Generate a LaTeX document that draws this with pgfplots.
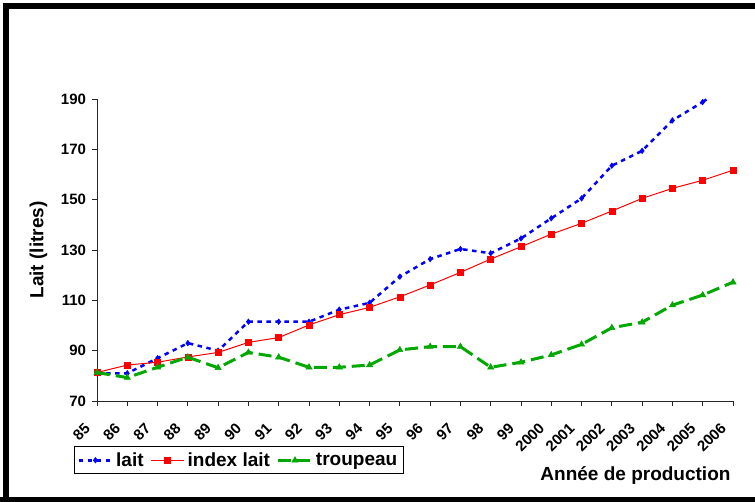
\documentclass[border=0pt]{standalone}
\usepackage{pgfplots}
\pgfplotsset{compat=1.18}
\usepackage{fontspec}
\setmainfont{Liberation Sans}
\definecolor{cblue}{RGB}{0,0,255}
\definecolor{cred}{RGB}{255,0,0}
\definecolor{cgreen}{RGB}{0,168,0}
\begin{document}
\begin{tikzpicture}
\useasboundingbox (0pt,0pt) rectangle (755pt,501pt);
\draw[line width=5.7pt] (6.15pt,-10pt) -- (6.15pt,494.85pt) -- (770pt,494.85pt);
\draw[line width=6pt] (-10pt,1.3pt) -- (770pt,1.3pt);
\begin{axis}[
  at={(97pt,100pt)}, anchor=south west,
  scale only axis, width=636pt, height=302pt,
  xmin=0, xmax=21, ymin=70, ymax=190,
  axis x line*=bottom, axis y line*=left,
  axis line style={-, black!85, line width=0.9pt},
  clip mode=individual,
  xtick={0,...,21},
  xticklabels={85,86,87,88,89,90,91,92,93,94,95,96,97,98,99,2000,2001,2002,2003,2004,2005,2006},
  ytick={70,90,...,190},
  tick align=outside, major tick length=5pt,
  tick style={black!85, line width=0.8pt},
  /pgf/number format/assume math mode=true,
  xticklabel style={font=\fontsize{15}{15}\selectfont\bfseries, xshift=-9.6pt, yshift=-19.5pt, rotate=45, anchor=east, inner sep=0pt},
  yticklabel style={font=\fontsize{15}{15}\selectfont\bfseries, xshift=-2.5pt},
  ylabel={Lait (litres)},
  ylabel style={font=\fontsize{19}{19}\selectfont\bfseries, at={(axis description cs:-0.092,0.5)}, anchor=center},
  xlabel={Année de production},
  xlabel style={font=\fontsize{19}{19}\selectfont\bfseries, at={(axis description cs:1.0016,-0.2616)}, anchor=base east},
  legend columns=-1,
  legend style={at={(-0.0357,-0.2427)}, anchor=south west, draw=black, line width=0.8pt,
    font=\fontsize{19}{19}\selectfont\bfseries, inner sep=3pt,
    nodes={inner sep=3pt},
    /tikz/every even column/.append style={column sep=4pt}},
  legend image code/.code={\draw[mark repeat=2,mark phase=2] plot coordinates {(0pt,0pt)(16.5pt,0pt)(33pt,0pt)};},
]
\addplot[cblue, line width=2.5pt, dash pattern=on 4.5pt off 4.5pt, mark=diamond*, mark size=2.8pt, mark options={solid, line width=0.5pt}]
coordinates {(0,81) (1,81) (2,87) (3,93) (4,90) (5,101.5) (6,101.5) (7,101.5) (8,106.3) (9,109) (10,119.4) (11,126.4) (12,130.4) (13,128.7) (14,134.6) (15,142.6) (16,150.5) (17,163.5) (18,169.4) (19,181.5) (20,188.8)};
\addlegendentry{lait}
\addplot[cred, line width=1pt, mark=square*, mark size=3pt, mark options={solid, line width=0.5pt}]
coordinates {(0,81.3) (1,84.3) (2,85.4) (3,87.5) (4,89.3) (5,93.3) (6,95.2) (7,100.2) (8,104.3) (9,107.2) (10,111.4) (11,116.1) (12,121.1) (13,126.4) (14,131.3) (15,136.3) (16,140.6) (17,145.5) (18,150.5) (19,154.5) (20,157.7) (21,161.7)};
\addlegendentry{index lait}
\addplot[cgreen, line width=3pt, dash pattern=on 13pt off 6pt, mark=triangle*, mark size=3.6pt, mark options={solid, line width=0.5pt}]
coordinates {(0,81.3) (1,79.3) (2,83.4) (3,87.4) (4,83.2) (5,89.3) (6,87.4) (7,83.4) (8,83.4) (9,84.3) (10,90.3) (11,91.6) (12,91.6) (13,83.4) (14,85.4) (15,88.3) (16,92.5) (17,99.1) (18,101.3) (19,108.1) (20,112.1) (21,117.2)};
\addlegendentry{troupeau}
\addplot[cblue, line width=2.5pt, dash pattern=on 4.5pt off 4.5pt, forget plot]
coordinates {(20,188.8) (21,197)};
\end{axis}
\end{tikzpicture}
\end{document}
